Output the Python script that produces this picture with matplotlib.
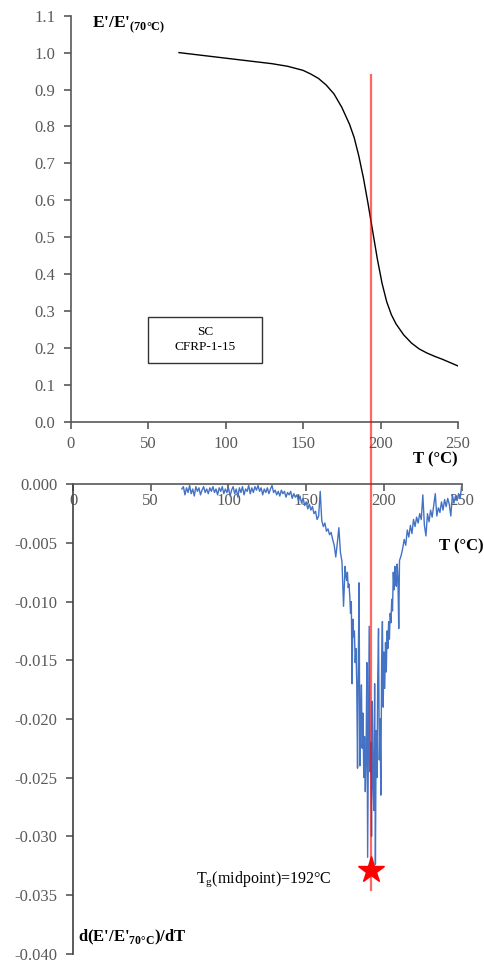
import matplotlib
matplotlib.use("Agg")
import matplotlib.pyplot as plt
from matplotlib.lines import Line2D
from matplotlib.patches import Rectangle
from matplotlib.ticker import FuncFormatter

plt.rcParams['font.family'] = ['Liberation Serif', 'DejaVu Serif']
plt.rcParams['mathtext.fontset'] = 'custom'
plt.rcParams['mathtext.rm'] = 'Liberation Serif'
plt.rcParams['mathtext.bf'] = 'Liberation Serif:bold'
plt.rcParams['axes.unicode_minus'] = False

# normalised storage modulus E'/E'(70C)
temp_e = [70, 80, 90, 100, 110, 120, 130, 140, 150, 155, 160, 165, 170, 175, 180,
          183, 186, 189, 192, 195, 198, 201, 204, 207, 210, 215, 220, 225, 230,
          235, 240, 245, 250]
e_ratio = [1.000, 0.995, 0.990, 0.985, 0.980, 0.975, 0.970, 0.963, 0.952, 0.942,
           0.930, 0.912, 0.888, 0.852, 0.806, 0.770, 0.720, 0.660, 0.590, 0.515,
           0.440, 0.375, 0.325, 0.290, 0.265, 0.235, 0.213, 0.197, 0.186, 0.177,
           0.169, 0.160, 0.151]

# derivative d(E'/E'70C)/dT
temp_d = list(range(70, 176)) + [x / 2 for x in range(351, 420)] + list(range(210, 251))
deriv = [
    -0.0004, -0.0002, -0.0009, -0.0003, -0.0007, -0.0001, -0.0008, -0.0004, -0.0010, -0.0002,
    -0.0006, -0.0003, -0.0009, -0.0005, -0.0002, -0.0007, -0.0004, -0.0008, -0.0003, -0.0006,
    -0.0002, -0.0007, -0.0004, -0.0009, -0.0003, -0.0006, -0.0002, -0.0008, -0.0004, -0.0007,
    -0.0003, -0.0010, -0.0005, -0.0002, -0.0008, -0.0004, -0.0011, -0.0003, -0.0007, -0.0002,
    -0.0009, -0.0004, -0.0006, -0.0001, -0.0008, -0.0003, -0.0007, -0.0002, -0.0005, -0.0001,
    -0.0006, -0.0003, -0.0009, -0.0004, -0.0007, -0.0003, -0.0008, -0.0004, -0.0001, -0.0007,
    -0.0005, -0.0009, -0.0006, -0.0010, -0.0005, -0.0008, -0.0006, -0.0011, -0.0007, -0.0009,
    -0.0006, -0.0012, -0.0008, -0.0011, -0.0009, -0.0014, -0.0010, -0.0016, -0.0012, -0.0018,
    -0.0015, -0.0021, -0.0017, -0.0022, -0.0019, -0.0025, -0.0023, -0.0030, -0.0027, -0.0006,
    -0.0031, -0.0036, -0.0033, -0.0040, -0.0038, -0.0043, -0.0041, -0.0047, -0.0052, -0.0062,
    -0.0050, -0.0037, -0.0058, -0.0066, -0.0104, -0.0070,
    -0.0078, -0.0082, -0.0075, -0.0088, -0.0085, -0.0095, -0.0110, -0.0100, -0.0170, -0.0115,
    -0.0130, -0.0125, -0.0152, -0.0140, -0.0170, -0.0242, -0.0150, -0.0084, -0.0240, -0.0200,
    -0.0171, -0.0225, -0.0195, -0.0250, -0.0215, -0.0262, -0.0230, -0.0152, -0.0318, -0.0220,
    -0.0121, -0.0245, -0.0220, -0.0300, -0.0185, -0.0255, -0.0278, -0.0170, -0.0324, -0.0210,
    -0.0250, -0.0165, -0.0123, -0.0235, -0.0200, -0.0265, -0.0150, -0.0117, -0.0190, -0.0143,
    -0.0174, -0.0135, -0.0160, -0.0125, -0.0140, -0.0117, -0.0132, -0.0110, -0.0118, -0.0098,
    -0.0108, -0.0075, -0.0090, -0.0070, -0.0085, -0.0087, -0.0068, -0.0080, -0.0123,
    -0.0065, -0.0061, -0.0055, -0.0047, -0.0052, -0.0039, -0.0045, -0.0035, -0.0042, -0.0030,
    -0.0036, -0.0028, -0.0033, -0.0025, -0.0030, -0.0009, -0.0035, -0.0044, -0.0025, -0.0032,
    -0.0022, -0.0028, -0.0018, -0.0008, -0.0027, -0.0020, -0.0024, -0.0015, -0.0022, -0.0013,
    -0.0019, -0.0012, -0.0017, -0.0027, -0.0009, -0.0016, -0.0010, -0.0014, -0.0008, -0.0012,
    -0.0001,
]

tg = 191.5
tg_star = -0.0329
tg_line_top = 0.94      # in E'/E' units
tg_line_bottom = -0.0346
x_ticks = [0, 50, 100, 150, 200, 250]
y_ticks_top = [0.0, 0.1, 0.2, 0.3, 0.4, 0.5, 0.6, 0.7, 0.8, 0.9, 1.0, 1.1]
y_ticks_bot = [0.0, -0.005, -0.010, -0.015, -0.020, -0.025, -0.030, -0.035, -0.040]

W, H = 484, 963
fig = plt.figure(figsize=(W / 100, H / 100), dpi=100)

def fig_pos(px, py):
    return px / W, 1 - py / H

spine_col = '#595959'
label_col = '#595959'

# upper panel
ax1 = fig.add_axes([70.5 / W, 1 - 421.7 / H, (458 - 70.5) / W, (421.7 - 15.7) / H])
ax1.plot(temp_e, e_ratio, color='black', lw=1.0)
ax1.set_xlim(0, 250)
ax1.set_ylim(0, 1.1)
ax1.set_xticks(x_ticks)
ax1.set_yticks(y_ticks_top)
ax1.yaxis.set_major_formatter(FuncFormatter(lambda v, p: f"{v:.1f}"))
for s in ['top', 'right']:
    ax1.spines[s].set_visible(False)
for s in ['left', 'bottom']:
    ax1.spines[s].set_color(spine_col)
    ax1.spines[s].set_linewidth(1.2)
ax1.tick_params(axis='both', direction='out', length=5, width=1.2, color=spine_col,
                labelcolor=label_col, labelsize=12)
ax1.tick_params(axis='x', pad=5)
ax1.tick_params(axis='y', pad=6)
ax1.add_patch(Rectangle(fig_pos(148.3, 362.7), (261.7 - 148.3) / W, (362.7 - 316.7) / H,
                        transform=fig.transFigure, fill=False, edgecolor='#333333', lw=1.0))
fig.text(*fig_pos(205, 339.5), "SC\nCFRP-1-15", ha='center', va='center',
         fontsize=9.5, linespacing=1.25)

# lower panel
ax2 = fig.add_axes([73 / W, 1 - 953.5 / H, (461.7 - 73) / W, (953.5 - 484.3) / H])
ax2.plot(temp_d, deriv, color='#4472C4', lw=1.0, zorder=3)
ax2.set_xlim(0, 250)
ax2.set_ylim(-0.04, 0)
ax2.set_xticks(x_ticks)
ax2.set_yticks(y_ticks_bot)
ax2.yaxis.set_major_formatter(FuncFormatter(lambda v, p: f"{v:.3f}"))
ax2.spines['bottom'].set_position(('data', 0))
for s in ['top', 'right']:
    ax2.spines[s].set_visible(False)
ax2.spines['bottom'].set_color(spine_col)
ax2.spines['left'].set_color('#404040')
for s in ['left', 'bottom']:
    ax2.spines[s].set_linewidth(1.2)
ax2.tick_params(axis='both', direction='out', length=5, width=1.2, color=spine_col,
                labelcolor=label_col, labelsize=12)
ax2.tick_params(axis='x', pad=1)
ax2.tick_params(axis='y', pad=6)
ax2.plot([tg], [tg_star], marker='*', color='red', ms=20, zorder=5, clip_on=False)

# vertical Tg line running through both panels (same screen x in both)
fig.canvas.draw()
to_fig = fig.transFigure.inverted()
x_fig, y_bot = to_fig.transform(ax2.transData.transform((tg, tg_line_bottom)))
_, y_top = to_fig.transform(ax1.transData.transform((tg, tg_line_top)))
fig.add_artist(Line2D([x_fig, x_fig], [y_bot, y_top], transform=fig.transFigure,
                      color='red', alpha=0.6, lw=1.6, zorder=4))

# axis titles
fig.text(*fig_pos(92, 27), "E'/E'$_{\\mathbf{(70°C)}}$", fontsize=12.5,
         fontweight='bold', va='baseline')
fig.text(*fig_pos(458, 463), "T (°C)", fontsize=12, fontweight='bold',
         ha='right', va='baseline')
fig.text(*fig_pos(484, 550), "T (°C)", fontsize=12, fontweight='bold',
         ha='right', va='baseline')
fig.text(*fig_pos(78.5, 941), "d(E'/E'$_{\\mathbf{70°C}}$)/dT", fontsize=12,
         fontweight='bold', va='baseline')
fig.text(*fig_pos(196.5, 882), "T$_{\\mathrm{g}}$(midpoint)=192°C", fontsize=11.5,
         va='baseline')

fig.savefig("out.png", dpi=100)
